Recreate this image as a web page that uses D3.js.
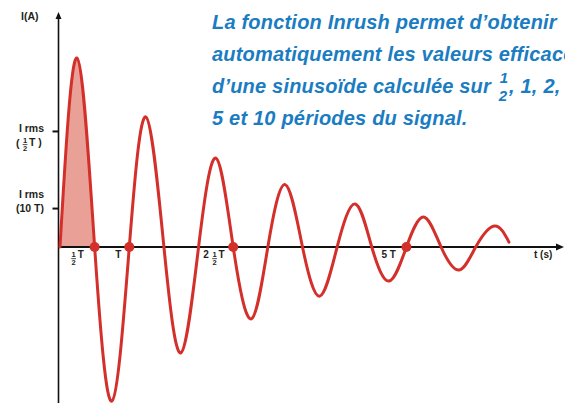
<!DOCTYPE html>
<html>
<head>
<meta charset="utf-8">
<script src="https://cdn.jsdelivr.net/npm/d3@7/dist/d3.min.js"></script>
<style>
    body { margin: 0; background: #fff; }
    svg { display: block; }
    text { white-space: pre; }
    .lbl { font-family: "Liberation Sans", Arial, sans-serif; font-weight: bold; fill: #231f20; }
    .title { font-family: "Liberation Sans", Arial, sans-serif; font-weight: bold; font-style: italic; fill: #1a7cc1; letter-spacing: 0.2px; }
</style>
</head>
<body>
<div id="chart"></div>
<script>
// time in periods (T), current in % of the first peak
var times = [0, 0.245, 0.5, 0.75, 1.0, 1.24, 1.5, 1.745, 2.0, 2.25, 2.5, 2.76, 3.0,
    3.25, 3.5, 3.75, 4.0, 4.26, 4.5, 4.75, 5.0, 5.25, 5.5, 5.76, 6.0, 6.27, 6.48];
var currents = [0, 100, 0, -81.5, 0, 68.8, 0, -56, 0, 47, 0, -38, 0,
    33, 0, -26, 0, 22.8, 0, -18, 0, 15.9, 0, -12.2, 0, 11.1, 2.6];

// marked zero crossings and their labels (whole part, fraction?, unit)
var markTimes = [0.5, 1, 2.5, 5];
var markLabels = [["", true, "T"], ["", false, "T"], ["2 ", true, "T"], ["5 ", false, "T"]];

// rms levels on the current axis
var rmsLevels = [61.4, 20.6];

var titleLines = ["La fonction Inrush permet d\u2019obtenir",
    "automatiquement les valeurs efficaces",
    "d\u2019une sinuso\u00efde calcul\u00e9e sur",
    "5 et 10 p\u00e9riodes du signal."];
var titleTail = ", 1, 2,";

var width = 565, height = 403;
var red = "#d3302b";

var svg = d3.select("#chart").append("svg")
    .attr("width", width)
    .attr("height", height);

var xScale = d3.scaleLinear().domain([0, 7]).range([60, 545]);
var yScale = d3.scaleLinear().domain([0, 100]).range([247, 58]);

var data = times.map(function (t, i) { return { t: t, v: currents[i] }; });

// shaded first half period
svg.append("clipPath").attr("id", "half")
    .append("rect")
    .attr("x", xScale(0))
    .attr("y", 0)
    .attr("width", xScale(0.5) - xScale(0))
    .attr("height", yScale(0));

var area = d3.area()
    .x(function (d) { return xScale(d.t); })
    .y0(yScale(0))
    .y1(function (d) { return yScale(d.v); })
    .curve(d3.curveNatural);

svg.append("path")
    .datum(data)
    .attr("d", area)
    .attr("fill", "#e9a197")
    .attr("clip-path", "url(#half)");

// axes lines with arrows
svg.append("line")
    .attr("x1", 58.5).attr("x2", 58.5)
    .attr("y1", height).attr("y2", 17)
    .attr("stroke", "#111").attr("stroke-width", 1.6);
svg.append("path")
    .attr("d", "M58.5,12 L55.5,19 L61.5,19 Z")
    .attr("fill", "#111");

svg.append("line")
    .attr("x1", 58).attr("x2", 558)
    .attr("y1", yScale(0)).attr("y2", yScale(0))
    .attr("stroke", "#111").attr("stroke-width", 1.8);
svg.append("path")
    .attr("d", "M564," + yScale(0) + " L556," + (yScale(0) - 3.5) + " L556," + (yScale(0) + 3.5) + " Z")
    .attr("fill", "#111");

// rms ticks
svg.append("g")
    .attr("transform", "translate(58.5,0)")
    .call(d3.axisLeft(yScale).tickValues(rmsLevels).tickSize(6).tickFormat(""))
    .call(function (g) {
        g.select(".domain").remove();
        g.selectAll("line").attr("stroke", "#111").attr("stroke-width", 2);
    });

// stacked fraction helper
function fraction(g, x, yNum, size, num, den, bar) {
    g.append("text").attr("class", "lbl")
        .attr("x", x).attr("y", yNum)
        .attr("text-anchor", "middle")
        .style("font-size", size + "px")
        .text(num);
    if (bar) {
        g.append("line")
            .attr("x1", x - size * 0.32).attr("x2", x + size * 0.32)
            .attr("y1", yNum + size * 0.22).attr("y2", yNum + size * 0.22)
            .attr("stroke", "#231f20").attr("stroke-width", 0.8);
    }
    g.append("text").attr("class", "lbl")
        .attr("x", x).attr("y", yNum + size * 1.05)
        .attr("text-anchor", "middle")
        .style("font-size", size + "px")
        .text(den);
}

var labels = svg.append("g");

labels.append("text").attr("class", "lbl")
    .attr("x", 21).attr("y", 20)
    .style("font-size", "10.5px")
    .text("I(A)");

// first rms label
labels.append("text").attr("class", "lbl")
    .attr("x", 44).attr("y", yScale(rmsLevels[0]) + 1)
    .attr("text-anchor", "end")
    .style("font-size", "10.5px")
    .text("I rms");
labels.append("text").attr("class", "lbl")
    .attr("x", 16).attr("y", yScale(rmsLevels[0]) + 16)
    .style("font-size", "10.5px")
    .text("(");
fraction(labels, 25, yScale(rmsLevels[0]) + 12, 7.5, "1", "2", true);
labels.append("text").attr("class", "lbl")
    .attr("x", 29).attr("y", yScale(rmsLevels[0]) + 15)
    .style("font-size", "10.5px")
    .text("T )");

// second rms label
labels.append("text").attr("class", "lbl")
    .attr("x", 44).attr("y", yScale(rmsLevels[1]) - 10)
    .attr("text-anchor", "end")
    .style("font-size", "10.5px")
    .text("I rms");
labels.append("text").attr("class", "lbl")
    .attr("x", 44).attr("y", yScale(rmsLevels[1]) + 4)
    .attr("text-anchor", "end")
    .style("font-size", "10.5px")
    .text("(10 T)");

// time labels
var ty = yScale(0) + 11;
markTimes.forEach(function (t, i) {
    var lab = markLabels[i];
    var x = xScale(t) - 24;
    if (i === 1) x = xScale(t) - 14;
    if (i === 2) x = xScale(t) - 30;
    if (i === 3) x = xScale(t) - 25;
    var cx = x;
    if (lab[0]) {
        var w = labels.append("text").attr("class", "lbl")
            .attr("x", cx).attr("y", ty)
            .style("font-size", "10px")
            .text(lab[0]);
        cx += w.node().getComputedTextLength();
    }
    if (lab[1]) {
        fraction(labels, cx + 3, ty - 1, 7.5, "1", "2", true);
        cx += 7;
    }
    labels.append("text").attr("class", "lbl")
        .attr("x", cx).attr("y", ty)
        .style("font-size", "10px")
        .text(lab[2]);
});

labels.append("text").attr("class", "lbl")
    .attr("x", 534).attr("y", ty)
    .style("font-size", "10px")
    .text("t (s)");

// inrush current curve
var line = d3.line()
    .x(function (d) { return xScale(d.t); })
    .y(function (d) { return yScale(d.v); })
    .curve(d3.curveNatural);

svg.append("path")
    .datum(data)
    .attr("d", line)
    .attr("fill", "none")
    .attr("stroke", red)
    .attr("stroke-width", 3)
    .attr("stroke-linecap", "round");

svg.selectAll("circle.mark")
    .data(markTimes)
    .enter()
    .append("circle")
    .attr("class", "mark")
    .attr("cx", function (d) { return xScale(d); })
    .attr("cy", yScale(0))
    .attr("r", 5)
    .attr("fill", red);

// title text
var title = svg.append("g");
var baselines = [29, 61, 93, 125];
titleLines.forEach(function (s, i) {
    var t = title.append("text").attr("class", "title")
        .attr("x", 212).attr("y", baselines[i])
        .style("font-size", "20px")
        .text(s);
    if (i === 2) {
        var x = 212 + t.node().getComputedTextLength();
        title.append("text").attr("class", "title")
            .attr("x", x + 13).attr("y", 83)
            .attr("text-anchor", "middle")
            .style("font-size", "15px")
            .text("1");
        title.append("text").attr("class", "title")
            .attr("x", x + 12).attr("y", 101)
            .attr("text-anchor", "middle")
            .style("font-size", "15px")
            .text("2");
        title.append("text").attr("class", "title")
            .attr("x", x + 18).attr("y", baselines[i])
            .style("font-size", "20px")
            .text(titleTail);
    }
});
</script>
</body>
</html>
